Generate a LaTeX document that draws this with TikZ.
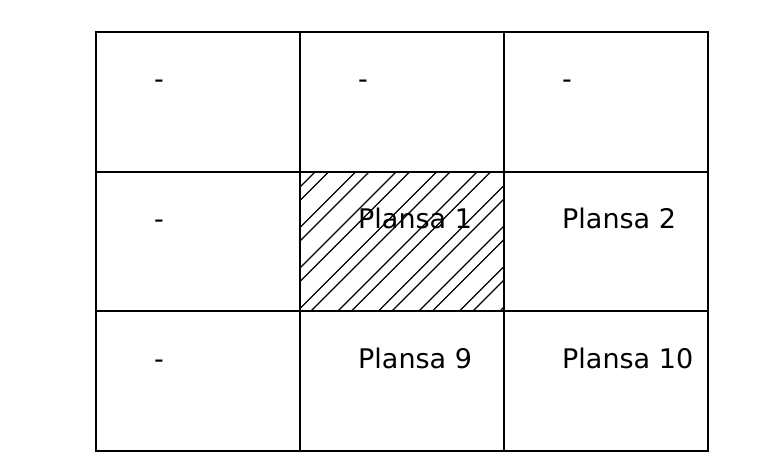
\documentclass[tikz,border=0pt]{standalone}
\usepackage{fontspec}
\setmainfont{DejaVu Sans}

\begin{document}
\begin{tikzpicture}[x=1pt, y=-1pt, cell/.style={draw, line width=1.8pt}, hatch/.style={line width=1.2pt}, sheet/.style={anchor=base west, inner sep=0pt, font=\fontsize{27}{32}\selectfont}]

\useasboundingbox (0,0) rectangle (764,476);
% hatched sheet, lines in pairs
\begin{scope}
\clip (300,172) rectangle (504,311);
\foreach \k in {0,...,8} {\draw[hatch] (176+40.5*\k,311) -- ++(139,-139); \draw[hatch] (189.5+40.5*\k,311) -- ++(139,-139);}
\end{scope}
% grid
\foreach \c in {0,1,2} \foreach \t/\b in {32/172,172/311,311/451} \draw[cell] (96+204*\c,\t) rectangle (300+204*\c,\b);
% labels
\node[sheet] (d1) at (154,89) {-};
\node[sheet] (d2) at (358,89) {-};
\node[sheet] (d3) at (562,89) {-};
\node[sheet] (d4) at (154,229) {-};
\node[sheet] (p1) at (358,229) {Plansa 1};
\node[sheet] (p2) at (562,229) {Plansa 2};
\node[sheet] (d5) at (154,368) {-};
\node[sheet] (p9) at (358,368) {Plansa 9};
\node[sheet] (p10) at (562,368) {Plansa 10};
\end{tikzpicture}
\end{document}
